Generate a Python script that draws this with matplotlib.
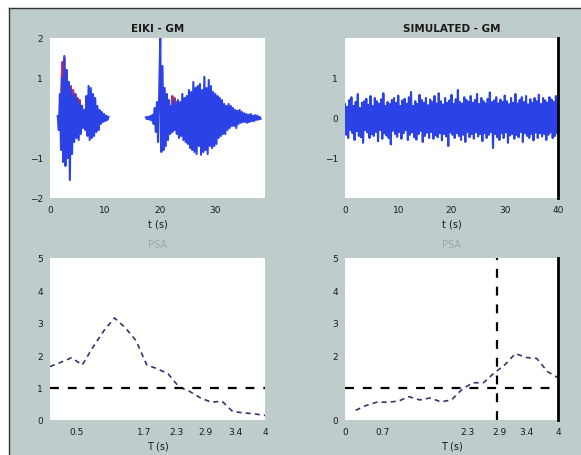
import numpy as np
import matplotlib
matplotlib.use("Agg")
import matplotlib.pyplot as plt
from matplotlib.patches import Rectangle
from matplotlib.lines import Line2D

# ---------------- data ----------------
# recorded ground motion, two bursts (time in s, acceleration)
rec1_t0, rec_dt = 1.4, 0.2
rec1_vals = [0.05, -0.3, 0.6, -0.8, 1.0, -1.1, 1.55, -1.2, 1.2, -1.0, 0.9, -1.55,
             0.7, -0.9, 0.55, -0.6, 0.6, -0.5, 0.45, -0.55, 0.35, -0.4, 0.3, -0.25,
             0.2, -0.3, 0.55, -0.45, 0.8, -0.55, 0.75, -0.5, 0.6, -0.45, 0.5, -0.35,
             0.3, -0.3, 0.2, -0.15, 0.15, -0.1, 0.1, -0.08, 0.06, -0.05, 0.03]
rec2_t0 = 17.4
rec2_vals = [0.02, -0.03, 0.03, -0.04, 0.05, -0.06, 0.08,
             -0.15, 0.25, -0.35, 0.4, -0.6, 0.55,
             2.0, -0.85, 1.3, -0.8, 0.75, -0.7, 0.6, -0.55, 0.45, -0.4,
             0.3, -0.35, 0.45, -0.3, 0.35, -0.4,
             0.45, -0.5, 0.4, -0.45, 0.6, -0.55, 0.5, -0.6, 0.55,
             -0.65, 0.7, -0.75, 0.65, -0.8, 0.9, -0.85, 0.75, -0.9, 0.8, -0.7,
             0.85, -0.92, 0.7, -0.85, 1.03, -0.8, 0.75, -0.9, 0.95, -0.7,
             0.8, -0.75, 0.65, -0.7, 0.6, -0.65, 0.55, -0.5, 0.5, -0.45,
             0.45, -0.4, 0.35, -0.4, 0.3, -0.3, 0.35, -0.25, 0.3, -0.2,
             0.25, -0.2, 0.2, -0.25, 0.18, -0.15, 0.2, -0.12, 0.15, -0.1,
             0.12, -0.1, 0.1, -0.12, 0.08, -0.1, 0.1, -0.08, 0.06, -0.08,
             0.07, -0.05, 0.06, -0.04, 0.03, -0.02]
# second component of the record (drawn underneath)
comp_t = [2.0, 2.2, 2.4, 2.6, 2.8, 3.0, 3.2, 3.4, 3.6, 3.8, 4.0, 4.2, 4.4, 4.6,
          4.8, 5.0, 5.2, 5.4, 5.6, 5.8, 6.0]
comp_v = [0.4, 1.4, 0.9, 1.5, 0.6, 1.2, 0.3, 0.9, 0.2, 0.8, 0.1, 0.7, 0.2, 0.6,
          0.1, 0.5, 0.0, 0.45, 0.1, 0.3, 0.0]
comp2_t = [22.0, 22.2, 22.4, 22.6, 22.8, 23.0, 23.2, 23.4]
comp2_v = [0.1, 0.55, -0.1, 0.5, 0.0, 0.4, -0.1, 0.3]

# simulated ground motion
sim_t0, sim_dt = 0.0, 0.2
sim_vals = [
    0.35, -0.42, 0.28, -0.5, 0.45, -0.3, 0.52, -0.38, 0.3, -0.55, 0.4, -0.33, 0.6, -0.45, 0.25, -0.48, 0.38, -0.62, 0.42, -0.3,
    0.48, -0.36, 0.33, -0.5, 0.55, -0.4, 0.3, -0.45, 0.5, -0.35, 0.42, -0.58, 0.36, -0.3, 0.47, -0.52, 0.62, -0.38, 0.3, -0.44,
    0.4, -0.5, 0.35, -0.66, 0.45, -0.32, 0.5, -0.4, 0.38, -0.47, 0.56, -0.35, 0.3, -0.52, 0.44, -0.38, 0.48, -0.3, 0.36, -0.55,
    0.52, -0.42, 0.65, -0.36, 0.3, -0.48, 0.42, -0.54, 0.35, -0.4, 0.58, -0.32, 0.45, -0.6, 0.38, -0.45, 0.5, -0.37, 0.32, -0.5,
    0.46, -0.35, 0.4, -0.52, 0.55, -0.43, 0.36, -0.48, 0.62, -0.38, 0.42, -0.56, 0.34, -0.4, 0.5, -0.46, 0.38, -0.7, 0.44, -0.36,
    0.58, -0.42, 0.35, -0.5, 0.47, -0.38, 0.7, -0.45, 0.4, -0.55, 0.36, -0.42, 0.52, -0.6, 0.45, -0.35, 0.4, -0.48, 0.55, -0.4,
    0.38, -0.52, 0.45, -0.36, 0.6, -0.46, 0.35, -0.4, 0.5, -0.58, 0.42, -0.38, 0.36, -0.5, 0.48, -0.42, 0.64, -0.35, 0.4, -0.75,
    0.44, -0.4, 0.52, -0.48, 0.36, -0.55, 0.46, -0.38, 0.4, -0.5, 0.56, -0.36, 0.42, -0.62, 0.35, -0.44, 0.5, -0.4, 0.38, -0.52,
    0.6, -0.42, 0.36, -0.48, 0.45, -0.35, 0.52, -0.6, 0.4, -0.38, 0.55, -0.45, 0.34, -0.5, 0.47, -0.4, 0.38, -0.56, 0.5, -0.36,
    0.42, -0.5, 0.58, -0.38, 0.35, -0.46, 0.5, -0.4, 0.44, -0.55, 0.38, -0.42, 0.52, -0.36, 0.46, -0.5, 0.4, -0.45, 0.55, -0.38,
    0.42]

# response spectra
spec_T = [0.0, 0.2, 0.4, 0.6, 0.8, 1.0, 1.2, 1.4, 1.6, 1.8, 2.0, 2.2, 2.4, 2.6,
          2.8, 3.0, 3.2, 3.4, 3.6, 3.8, 4.0]
spec_rec = [1.65, 1.78, 1.92, 1.7, 2.25, 2.75, 3.15, 2.85, 2.45, 1.7, 1.58,
            1.42, 1.02, 0.88, 0.68, 0.55, 0.58, 0.26, 0.22, 0.19, 0.14]
spec_sim_T = spec_T[1:]
spec_sim = [0.3, 0.45, 0.55, 0.55, 0.58, 0.72, 0.62, 0.68, 0.56, 0.62, 0.95,
            1.15, 1.15, 1.45, 1.7, 2.05, 1.93, 1.9, 1.5, 1.3]
ref_level = 1.0
T_mark = 2.85

# ---------------- figure ----------------
BG = "#bfcccc"
BLUE = "#2b42e6"
RED = "#b0306e"
NAVY = "#34346e"
TXT = "#1a1a1a"

fig = plt.figure(figsize=(5.81, 4.56), dpi=100, facecolor="white")
fig.patches.append(Rectangle((9 / 581, 0), 1 - 9 / 581, 1 - 9 / 456,
                             transform=fig.transFigure, facecolor=BG,
                             edgecolor="none", zorder=-10))
fig.lines.append(Line2D([9 / 581, 1], [1 - 9 / 456, 1 - 9 / 456],
                        transform=fig.transFigure, color="#333333", lw=1))
fig.lines.append(Line2D([9 / 581, 9 / 581], [0, 1 - 9 / 456],
                        transform=fig.transFigure, color="#333333", lw=1))

W = 581.0
H = 456.0


def add_axes(x0, y0, x1, y1):
    return fig.add_axes([x0 / W, 1 - y1 / H, (x1 - x0) / W, (y1 - y0) / H])


ax_tl = add_axes(50, 39, 265, 199)
ax_tr = add_axes(345, 39, 558, 199)
ax_bl = add_axes(50, 259, 265, 421)
ax_br = add_axes(345, 259, 558, 421)

for ax in (ax_tl, ax_tr, ax_bl, ax_br):
    ax.set_facecolor("white")
    for s in ax.spines.values():
        s.set_visible(False)
    ax.tick_params(length=0, labelsize=6.5, colors=TXT, pad=5)

for ax in (ax_tr, ax_br):
    ax.spines["right"].set_visible(True)
    ax.spines["right"].set_linewidth(2)
    ax.spines["right"].set_color("black")

# recorded motion
t1 = rec1_t0 + rec_dt * np.arange(len(rec1_vals))
t2 = rec2_t0 + rec_dt * np.arange(len(rec2_vals))
ax_tl.plot(comp_t, comp_v, color=RED, lw=1.5)
ax_tl.plot(comp2_t, comp2_v, color=RED, lw=1.5)
ax_tl.plot(t1, rec1_vals, color=BLUE, lw=1.5)
ax_tl.plot(t2, rec2_vals, color=BLUE, lw=1.5)
ax_tl.set_xlim(0, 39)
ax_tl.set_ylim(-2, 2)
ax_tl.set_xticks([0, 10, 20, 30])
ax_tl.set_yticks([-2, -1, 1, 2])
ax_tl.set_title("EIKI - GM", fontsize=7.5, fontweight="bold", color=TXT, pad=5)
ax_tl.set_xlabel("t (s)", fontsize=7, color=TXT, labelpad=3)

# simulated motion
ts = sim_t0 + sim_dt * np.arange(len(sim_vals))
ax_tr.plot(ts, sim_vals, color=BLUE, lw=1.5)
ax_tr.set_xlim(0, 40)
ax_tr.set_ylim(-2, 2)
ax_tr.set_xticks([0, 10, 20, 30, 40])
ax_tr.set_yticks([-1, 0, 1])
ax_tr.set_title("SIMULATED - GM", fontsize=7.5, fontweight="bold", color=TXT, pad=5)
ax_tr.set_xlabel("t (s)", fontsize=7, color=TXT, labelpad=3)

# spectra
ax_bl.plot(spec_T, spec_rec, color=NAVY, lw=1.2, ls=(0, (3, 2.5)))
ax_bl.axhline(ref_level, color="black", lw=1.6, ls=(0, (4, 4)))
ax_bl.set_xlim(0, 4)
ax_bl.set_ylim(0, 5)
ax_bl.set_xticks([0.5, 1.75, 2.35, 2.9, 3.45, 4.0])
ax_bl.set_xticklabels(["0.5", "1.7", "2.3", "2.9", "3.4", "4"])
ax_bl.set_yticks([0, 1, 2, 3, 4, 5])
ax_bl.set_title("PSA", fontsize=7, color="#9aa9a9", pad=8)
ax_bl.set_xlabel("T (s)", fontsize=7, color=TXT, labelpad=3)

ax_br.plot(spec_sim_T, spec_sim, color=NAVY, lw=1.2, ls=(0, (3, 2.5)))
ax_br.axhline(ref_level, color="black", lw=1.6, ls=(0, (4, 4)))
ax_br.axvline(T_mark, color="black", lw=1.6, ls=(0, (4, 4)))
ax_br.set_xlim(0, 4)
ax_br.set_ylim(0, 5)
ax_br.set_xticks([0, 0.7, 2.3, 2.9, 3.4, 4.0])
ax_br.set_xticklabels(["0", "0.7", "2.3", "2.9", "3.4", "4"])
ax_br.set_yticks([0, 2, 3, 4, 5])
ax_br.set_title("PSA", fontsize=7, color="#9aa9a9", pad=8)
ax_br.set_xlabel("T (s)", fontsize=7, color=TXT, labelpad=3)

fig.savefig("out.png", dpi=100, facecolor=fig.get_facecolor())
